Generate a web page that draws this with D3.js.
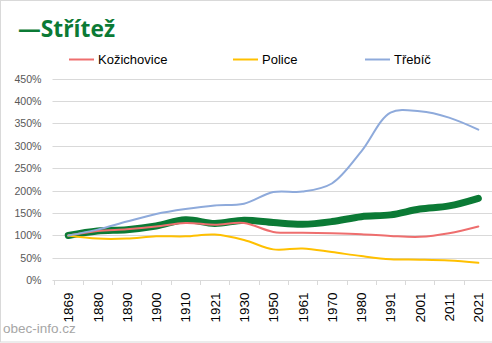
<!DOCTYPE html>
<html><head><meta charset="utf-8">
<script src="https://cdn.jsdelivr.net/npm/d3@7"></script>
<style>html,body{margin:0;padding:0;background:#fff}svg{display:block}</style>
</head><body><svg id="c" width="492" height="343"></svg>
<script>
const years = ["1869","1880","1890","1900","1910","1921","1930","1950","1961","1970","1980","1991","2001","2011","2021"];
const striteze = [100,110,113,121,135,127,134,129,125,131,142,146,159,166,183];
const kozichovice = [100,110,114,120,128,124,128,108,106,105,103,99,97,105,120];
const police = [100,93,93,98,98,102,90,69,71,63,54,47,46,44,39];
const trebic = [100,113,131,148,159,167,171,197,198,216,287,374,377,363,336];
const yTicks = [0,50,100,150,200,250,300,350,400,450];
const title = "—Střítež";
const legendNames = ["Kožichovice","Police","Třebíč"];
const source = "obec-info.cz";

const svg = d3.select("#c");
const font = "'Liberation Sans', Arial, sans-serif";
svg.append("rect").attr("x",0.5).attr("y",0.5).attr("width",495).attr("height",341.5)
  .attr("fill","#fff").attr("stroke","#d9d9d9");

const x = d3.scaleBand().domain(years).range([53.6, 493]).padding(0);
const y = d3.scaleLinear().domain([0,450]).range([280.3, 78.6]);
const cx = d => x(d) + x.bandwidth()/2;

// grid
svg.append("g").selectAll("line").data(yTicks.filter(t=>t>0)).join("line")
  .attr("x1",52.5).attr("x2",492).attr("y1",d=>Math.round(y(d))+0.5).attr("y2",d=>Math.round(y(d))+0.5)
  .attr("stroke","#d9d9d9").attr("stroke-width",1);

// y labels
svg.append("g").selectAll("text").data(yTicks).join("text")
  .attr("x",41.5).attr("y",d=>y(d)+4).attr("text-anchor","end")
  .attr("font-family",font).attr("font-size",10.6).attr("fill","#595959")
  .text(d=>d+"%");

// x axis
const xa = svg.append("g");
xa.append("line").attr("x1",52.5).attr("x2",492).attr("y1",280.5).attr("y2",280.5).attr("stroke","#d9d9d9");
const bounds = years.map(d=>x(d)).concat([x.range()[1]]);
xa.selectAll("line.t").data(bounds).join("line").attr("class","t")
  .attr("x1",d=>Math.round(d)+0.5).attr("x2",d=>Math.round(d)+0.5).attr("y1",280.5).attr("y2",285)
  .attr("stroke","#d9d9d9");
xa.selectAll("text").data(years).join("text")
  .attr("transform",d=>`translate(${cx(d)+5},292.5) rotate(-90)`)
  .attr("text-anchor","end").attr("font-family",font).attr("font-size",13.5).attr("fill","#000")
  .text(d=>d);

const line = d3.line().x((d,i)=>cx(years[i])).y(d=>y(d)).curve(d3.curveCatmullRom.alpha(0.5));
const series = [
  {v:striteze,c:"#0b7a35",w:7},
  {v:kozichovice,c:"#ee6e6e",w:2},
  {v:police,c:"#ffc000",w:2},
  {v:trebic,c:"#8eaadb",w:2}
];
svg.append("g").selectAll("path").data(series).join("path")
  .attr("d",d=>line(d.v)).attr("fill","none").attr("stroke",d=>d.c).attr("stroke-width",d=>d.w)
  .attr("stroke-linecap","round").attr("stroke-linejoin","round");

// title
svg.append("text").attr("x",18).attr("y",36.5).attr("font-family","'Open Sans', sans-serif").attr("font-weight","bold")
  .attr("font-size",24).attr("fill","#0b7a35").attr("textLength",97).attr("lengthAdjust","spacingAndGlyphs").text(title);

// legend
const lg = [{n:legendNames[0],c:"#ee6e6e",x:69},{n:legendNames[1],c:"#ffc000",x:233},{n:legendNames[2],c:"#8eaadb",x:365}];
const lgG = svg.append("g").selectAll("g").data(lg).join("g");
lgG.append("line").attr("x1",d=>d.x).attr("x2",d=>d.x+25).attr("y1",59.5).attr("y2",59.5).attr("stroke",d=>d.c).attr("stroke-width",2);
lgG.append("text").attr("x",d=>d.x+29).attr("y",64).attr("font-family",font).attr("font-size",13).attr("fill","#000").text(d=>d.n);

svg.append("text").attr("x",3).attr("y",333).attr("font-family",font).attr("font-size",13.5).attr("fill","#a6a6a6").text(source);
</script></body></html>
